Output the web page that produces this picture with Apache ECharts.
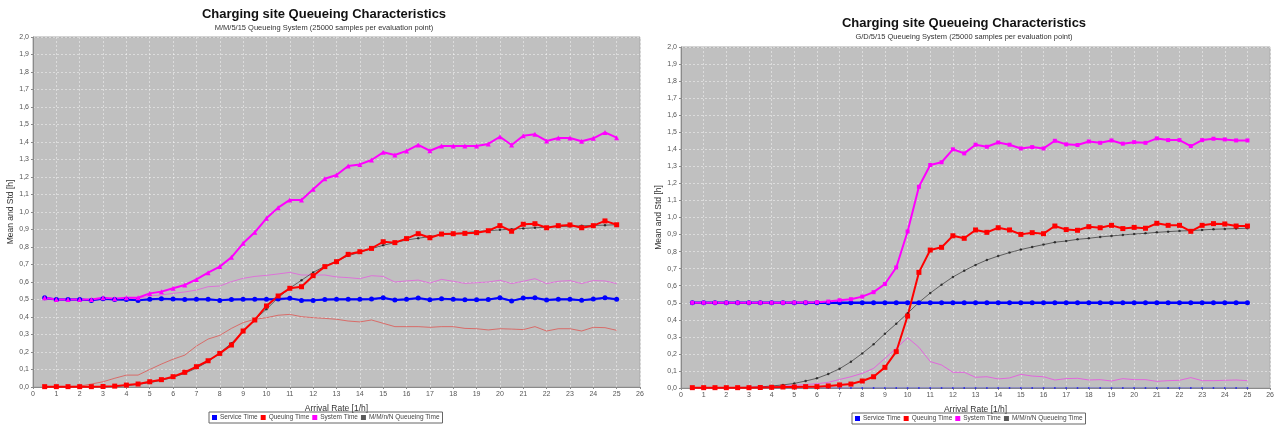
<!DOCTYPE html>
<html>
<head>
<meta charset="utf-8">
<script src="https://cdn.jsdelivr.net/npm/echarts@6/dist/echarts.min.js"></script>
<style>
  html, body { margin: 0; padding: 0; background: #ffffff; }
  #chart { width: 1277px; height: 427px; }
</style>
</head>
<body>
<div id="chart"></div>
<script>
// Arrival rates (1/h) at which each queueing system was evaluated
const rates = [0.5, 1, 1.5, 2, 2.5, 3, 3.5, 4, 4.5, 5,
  5.5, 6, 6.5, 7, 7.5, 8, 8.5, 9, 9.5, 10,
  10.5, 11, 11.5, 12, 12.5, 13, 13.5, 14, 14.5, 15,
  15.5, 16, 16.5, 17, 17.5, 18, 18.5, 19, 19.5, 20,
  20.5, 21, 21.5, 22, 22.5, 23, 23.5, 24, 24.5, 25];

const legendNames = ['Service Time', 'Queuing Time', 'System Time', 'M/M/n/N Queueing Time'];

// ---- M/M/5/15 system ----
const mmServiceMean = [0.51, 0.50, 0.50, 0.50, 0.495, 0.505, 0.50, 0.50, 0.495, 0.502,
  0.505, 0.503, 0.50, 0.502, 0.502, 0.495, 0.50, 0.502, 0.502, 0.502,
  0.503, 0.507, 0.495, 0.495, 0.50, 0.502, 0.502, 0.502, 0.503, 0.51,
  0.497, 0.502, 0.508, 0.498, 0.505, 0.502, 0.498, 0.498, 0.50, 0.51,
  0.492, 0.508, 0.51, 0.497, 0.502, 0.502, 0.496, 0.503, 0.51, 0.502];
const mmServiceStd = [0.505, 0.50, 0.498, 0.50, 0.497, 0.503, 0.50, 0.498, 0.497, 0.50,
  0.503, 0.50, 0.50, 0.50, 0.50, 0.497, 0.50, 0.50, 0.50, 0.50,
  0.50, 0.505, 0.497, 0.497, 0.50, 0.50, 0.50, 0.50, 0.50, 0.507,
  0.497, 0.50, 0.505, 0.497, 0.503, 0.50, 0.497, 0.497, 0.50, 0.507,
  0.493, 0.505, 0.507, 0.497, 0.50, 0.50, 0.495, 0.50, 0.507, 0.50];
const mmQueueMean = [0.002, 0.002, 0.002, 0.002, 0.002, 0.003, 0.005, 0.011, 0.017, 0.03,
  0.042, 0.059, 0.084, 0.116, 0.15, 0.192, 0.24, 0.32, 0.383, 0.463,
  0.52, 0.564, 0.573, 0.636, 0.688, 0.716, 0.758, 0.773, 0.792, 0.83,
  0.825, 0.848, 0.876, 0.853, 0.874, 0.876, 0.878, 0.882, 0.893, 0.922,
  0.89, 0.93, 0.933, 0.91, 0.922, 0.926, 0.91, 0.922, 0.949, 0.927];
const mmQueueStd = [0.0, 0.001, 0.002, 0.005, 0.017, 0.03, 0.05, 0.068, 0.068, 0.1,
  0.131, 0.159, 0.182, 0.234, 0.274, 0.295, 0.335, 0.368, 0.387, 0.396,
  0.41, 0.415, 0.402, 0.396, 0.392, 0.387, 0.377, 0.372, 0.383, 0.364,
  0.345, 0.345, 0.345, 0.341, 0.345, 0.345, 0.335, 0.333, 0.326, 0.333,
  0.331, 0.328, 0.345, 0.32, 0.333, 0.333, 0.32, 0.341, 0.339, 0.324];
const mmSystemMean = [0.51, 0.50, 0.50, 0.50, 0.50, 0.51, 0.505, 0.51, 0.51, 0.535,
  0.545, 0.564, 0.583, 0.615, 0.653, 0.688, 0.741, 0.821, 0.884, 0.964,
  1.025, 1.069, 1.069, 1.13, 1.19, 1.211, 1.263, 1.272, 1.297, 1.341,
  1.326, 1.349, 1.383, 1.35, 1.377, 1.377, 1.377, 1.377, 1.389, 1.43,
  1.383, 1.436, 1.444, 1.406, 1.423, 1.423, 1.404, 1.421, 1.455, 1.425];
const mmSystemStd = [0.505, 0.50, 0.50, 0.50, 0.50, 0.505, 0.503, 0.505, 0.505, 0.52,
  0.526, 0.535, 0.543, 0.554, 0.573, 0.577, 0.602, 0.621, 0.632, 0.638,
  0.646, 0.655, 0.64, 0.64, 0.64, 0.629, 0.625, 0.619, 0.636, 0.632,
  0.60, 0.606, 0.611, 0.594, 0.615, 0.604, 0.592, 0.596, 0.60, 0.61,
  0.591, 0.604, 0.619, 0.591, 0.604, 0.608, 0.591, 0.608, 0.606, 0.591];
const mmTheoryQueue = [0, 0, 0, 0.001, 0.001, 0.002, 0.003, 0.008, 0.015, 0.025,
  0.038, 0.055, 0.078, 0.108, 0.145, 0.195, 0.25, 0.315, 0.385, 0.445,
  0.51, 0.565, 0.61, 0.655, 0.69, 0.72, 0.75, 0.77, 0.79, 0.81,
  0.825, 0.84, 0.85, 0.86, 0.87, 0.875, 0.882, 0.888, 0.893, 0.898,
  0.902, 0.906, 0.91, 0.913, 0.916, 0.919, 0.921, 0.923, 0.925, 0.927];

// ---- G/D/5/15 system ----
const gdServiceMean = [0.5, 0.5, 0.5, 0.5, 0.5, 0.5, 0.5, 0.5, 0.5, 0.5,
  0.5, 0.5, 0.5, 0.5, 0.5, 0.5, 0.5, 0.5, 0.5, 0.5,
  0.5, 0.5, 0.5, 0.5, 0.5, 0.5, 0.5, 0.5, 0.5, 0.5,
  0.5, 0.5, 0.5, 0.5, 0.5, 0.5, 0.5, 0.5, 0.5, 0.5,
  0.5, 0.5, 0.5, 0.5, 0.5, 0.5, 0.5, 0.5, 0.5, 0.5];
const gdServiceStd = [0, 0, 0, 0, 0, 0, 0, 0, 0, 0,
  0, 0, 0, 0, 0, 0, 0, 0, 0, 0,
  0, 0, 0, 0, 0, 0, 0, 0, 0, 0,
  0, 0, 0, 0, 0, 0, 0, 0, 0, 0,
  0, 0, 0, 0, 0, 0, 0, 0, 0, 0];
const gdQueueMean = [0.002, 0.002, 0.002, 0.002, 0.002, 0.002, 0.003, 0.004, 0.006, 0.006,
  0.008, 0.008, 0.012, 0.018, 0.023, 0.041, 0.066, 0.121, 0.213, 0.422,
  0.678, 0.809, 0.825, 0.893, 0.878, 0.927, 0.913, 0.94, 0.927, 0.901,
  0.911, 0.905, 0.95, 0.929, 0.925, 0.946, 0.94, 0.954, 0.935, 0.942,
  0.937, 0.966, 0.954, 0.954, 0.919, 0.954, 0.964, 0.962, 0.95, 0.95];
const gdSystemMean = [0.5, 0.5, 0.5, 0.5, 0.5, 0.5, 0.5, 0.5, 0.5, 0.501,
  0.502, 0.503, 0.507, 0.515, 0.521, 0.536, 0.562, 0.61, 0.707, 0.918,
  1.18, 1.308, 1.324, 1.40, 1.376, 1.427, 1.415, 1.44, 1.427, 1.405,
  1.413, 1.405, 1.45, 1.429, 1.425, 1.446, 1.438, 1.452, 1.433, 1.442,
  1.438, 1.464, 1.454, 1.454, 1.419, 1.454, 1.462, 1.458, 1.452, 1.452];
const gdSystemStd = [0, 0, 0, 0.001, 0.002, 0.004, 0.006, 0.008, 0.012, 0.015,
  0.02, 0.025, 0.033, 0.05, 0.066, 0.086, 0.115, 0.174, 0.233, 0.295,
  0.239, 0.155, 0.135, 0.092, 0.092, 0.063, 0.066, 0.053, 0.059, 0.08,
  0.07, 0.066, 0.047, 0.055, 0.057, 0.047, 0.049, 0.041, 0.055, 0.049,
  0.049, 0.039, 0.043, 0.045, 0.061, 0.043, 0.043, 0.045, 0.047, 0.043];
const gdTheoryQueue = [0, 0.001, 0.001, 0.002, 0.003, 0.004, 0.006, 0.012, 0.018, 0.027,
  0.041, 0.057, 0.082, 0.113, 0.154, 0.203, 0.256, 0.318, 0.377, 0.438,
  0.502, 0.557, 0.606, 0.651, 0.688, 0.722, 0.751, 0.774, 0.794, 0.812,
  0.827, 0.841, 0.855, 0.862, 0.872, 0.878, 0.886, 0.892, 0.898, 0.903,
  0.907, 0.913, 0.917, 0.921, 0.923, 0.927, 0.931, 0.933, 0.935, 0.937];

const FONT = 'Liberation Sans, Arial, sans-serif';
const GRID_LINE = { color: 'rgba(255,255,255,0.45)', type: [2, 2], width: 1 };

function pairs(values) {
  return rates.map((r, i) => [r, values[i]]);
}

// mean lines carry markers, std lines are thin and translucent
function meanLine(name, values, idx, color, symbol, size, width, opacity) {
  return {
    name, type: 'line', xAxisIndex: idx, yAxisIndex: idx,
    data: pairs(values), color,
    symbol, symbolSize: size, showSymbol: true,
    lineStyle: { color, width: width, opacity: opacity || 1 },
    itemStyle: { color, opacity: opacity || 1 },
    animation: false, z: 3
  };
}
function stdLine(name, values, idx, color, width, opacity, symbolSize) {
  return {
    name, type: 'line', xAxisIndex: idx, yAxisIndex: idx,
    data: pairs(values), color,
    symbol: symbolSize ? 'rect' : 'none', symbolSize: symbolSize || 0,
    lineStyle: { color, width, opacity },
    itemStyle: { color, opacity },
    animation: false, z: 2
  };
}

function xAxis(idx) {
  return {
    type: 'value', gridIndex: idx, min: 0, max: 26, interval: 1,
    name: 'Arrival Rate [1/h]', nameLocation: 'middle', nameGap: 17,
    nameTextStyle: { fontFamily: FONT, fontSize: 8.5, color: '#333' },
    axisLine: { show: true, lineStyle: { color: '#8a8a8a' } },
    axisTick: { show: true, length: 2, lineStyle: { color: '#8a8a8a' } },
    axisLabel: { fontFamily: FONT, fontSize: 7, color: '#555', margin: 4 },
    splitLine: { show: true, lineStyle: GRID_LINE }
  };
}
function yAxis(idx, gap) {
  return {
    type: 'value', gridIndex: idx, min: 0, max: 2, interval: 0.1,
    name: 'Mean and Std [h]', nameLocation: 'middle', nameGap: gap, nameRotate: 90,
    nameTextStyle: { fontFamily: FONT, fontSize: 8.5, color: '#333' },
    axisLine: { show: true, lineStyle: { color: '#8a8a8a' } },
    axisTick: { show: true, length: 2, lineStyle: { color: '#8a8a8a' } },
    axisLabel: { fontFamily: FONT, fontSize: 7, color: '#555', margin: 4,
      formatter: v => v.toFixed(1).replace('.', ',') },
    splitLine: { show: true, lineStyle: GRID_LINE }
  };
}
function legend(left, top) {
  return {
    data: legendNames, left, top, orient: 'horizontal',
    icon: 'rect', itemWidth: 5, itemHeight: 5, itemGap: 3,
    padding: [2, 3], borderColor: '#666', borderWidth: 1,
    textStyle: { fontFamily: FONT, fontSize: 6.5, color: '#444', padding: [0, 0, 0, -2] },
    selectedMode: false
  };
}
function title(x, top, sub) {
  return {
    text: 'Charging site Queueing Characteristics',
    subtext: sub, left: x, top, textAlign: 'center', itemGap: 3, padding: 0,
    textStyle: { fontFamily: FONT, fontSize: 13, fontWeight: 'bold', color: '#111' },
    subtextStyle: { fontFamily: FONT, fontSize: 7.5, color: '#333' }
  };
}

const BLUE = '#0000ff', RED = '#ff0000', MAG = '#ff00ff', BLACK = '#000000';

const series = [
  // M/M/5/15
  stdLine('Service Time Std', mmServiceStd, 0, BLUE, 2, 0.55),
  stdLine('Queuing Time Std', mmQueueStd, 0, '#e8332e', 1, 0.6),
  stdLine('System Time Std', mmSystemStd, 0, '#f040e8', 1, 0.6),
  meanLine('M/M/n/N Queueing Time', mmTheoryQueue, 0, BLACK, 'circle', 2.5, 0.8, 0.65),
  meanLine('Service Time', mmServiceMean, 0, BLUE, 'circle', 5, 2),
  meanLine('Queuing Time', mmQueueMean, 0, RED, 'rect', 5, 2),
  meanLine('System Time', mmSystemMean, 0, MAG, 'triangle', 5, 2),
  // G/D/5/15
  stdLine('Service Time Std', gdServiceStd, 1, BLUE, 0.5, 0.8, 1.5),
  stdLine('System Time Std', gdSystemStd, 1, '#f040e8', 1, 0.7),
  meanLine('M/M/n/N Queueing Time', gdTheoryQueue, 1, BLACK, 'circle', 2.5, 0.8, 0.65),
  meanLine('Service Time', gdServiceMean, 1, BLUE, 'circle', 5, 2.5),
  meanLine('Queuing Time', gdQueueMean, 1, RED, 'rect', 5, 2),
  meanLine('System Time', gdSystemMean, 1, MAG, 'rect', 4, 2)
];

const chart = echarts.init(document.getElementById('chart'), null, { renderer: 'canvas' });
chart.setOption({
  backgroundColor: '#ffffff',
  animation: false,
  title: [
    title(324, 8, 'M/M/5/15 Queueing System (25000 samples per evaluation point)'),
    title(964, 17, 'G/D/5/15 Queueing System (25000 samples per evaluation point)')
  ],
  legend: [legend(209, 412), legend(852, 413)],
  grid: [
    { left: 33, top: 37, width: 607, height: 350, show: true,
      backgroundColor: '#c0c0c0', borderColor: '#a8a8a8', borderWidth: 1 },
    { left: 681, top: 47, width: 590, height: 341, show: true,
      backgroundColor: '#c0c0c0', borderColor: '#a8a8a8', borderWidth: 1 }
  ],
  xAxis: [xAxis(0), xAxis(1)],
  yAxis: [yAxis(0, 17), yAxis(1, 16)],
  series
});
</script>
</body>
</html>
